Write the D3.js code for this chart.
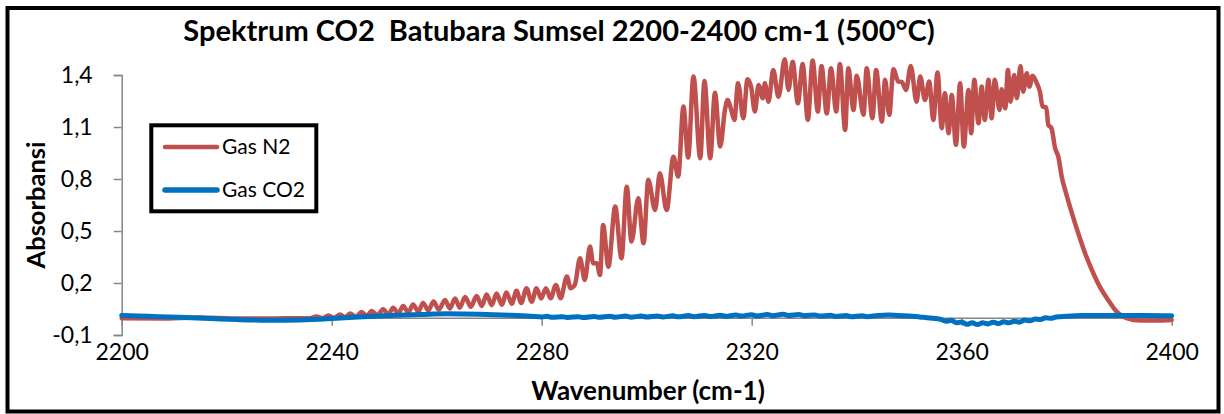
<!DOCTYPE html>
<html>
<head>
<meta charset="utf-8">
<script src="https://cdn.jsdelivr.net/npm/d3@7"></script>
<style>
  body { margin: 0; background: #fff; }
  svg { display: block; }
  text { font-family: Lato, "Open Sans", sans-serif; fill: #000; }
</style>
</head>
<body>
<svg id="chart" width="1224" height="414"></svg>
<script>
// tick values
var xTicks = [2200, 2240, 2280, 2320, 2360, 2400];
var yTicks = [-0.1, 0.2, 0.5, 0.8, 1.1, 1.4];

// Gas N2 series (wavenumber, absorbance)
var n2Wave = [2200.0, 2207.3, 2214.9, 2222.5, 2228.2, 2234.0, 2235.9, 2237.1, 2238.2, 2239.4,
  2240.4, 2241.6, 2242.5, 2243.5, 2244.6, 2245.7, 2246.7, 2247.6, 2248.7, 2249.8,
  2250.8, 2251.7, 2252.7, 2253.6, 2254.6, 2255.5, 2256.5, 2257.4, 2258.4, 2259.4,
  2260.4, 2261.6, 2262.5, 2263.5, 2264.4, 2265.4, 2266.5, 2267.6, 2268.6, 2269.5,
  2270.5, 2271.4, 2272.4, 2273.3, 2274.3, 2275.2, 2276.1, 2277.1, 2278.1, 2279.0,
  2279.9, 2280.8, 2281.7, 2282.7, 2283.6, 2284.8, 2285.5, 2286.3, 2287.3, 2288.2,
  2289.2, 2289.8, 2290.5, 2291.1, 2291.7, 2292.7, 2294.0, 2295.2, 2296.2, 2297.1,
  2298.4, 2299.4, 2300.3, 2301.6, 2302.5, 2303.8, 2305.1, 2306.0, 2307.0, 2307.9,
  2308.9, 2310.2, 2311.0, 2312.1, 2313.0, 2314.0, 2314.9, 2315.4, 2316.1, 2316.7,
  2317.4, 2318.4, 2319.2, 2319.9, 2320.6, 2321.3, 2322.1, 2322.5, 2323.2, 2324.1,
  2325.1, 2326.3, 2327.0, 2327.8, 2328.8, 2329.7, 2330.7, 2331.6, 2332.6, 2333.3,
  2334.3, 2335.1, 2336.1, 2336.8, 2337.8, 2338.4, 2339.4, 2340.0, 2341.3, 2341.9,
  2343.0, 2343.7, 2344.8, 2345.4, 2346.2, 2347.0, 2347.9, 2348.6, 2349.4, 2350.3,
  2351.4, 2352.1, 2353.0, 2353.8, 2354.6, 2355.4, 2356.2, 2356.8, 2357.5, 2358.1,
  2358.9, 2359.7, 2360.4, 2361.3, 2361.8, 2362.4, 2363.2, 2363.8, 2364.4, 2365.1,
  2365.7, 2366.3, 2367.2, 2367.6, 2368.3, 2368.8, 2369.3, 2370.0, 2370.5, 2371.2,
  2371.7, 2372.4, 2372.9, 2373.5, 2374.3, 2374.9, 2375.4, 2376.1, 2376.5, 2377.1,
  2377.8, 2378.4, 2379.1, 2379.7, 2381.0, 2382.2, 2383.5, 2384.8, 2386.3, 2387.9,
  2389.5, 2391.4, 2394.0, 2397.1, 2400.0];
var n2Abs = [-0.003, -0.005, 0.001, -0.005, -0.005, -0.003, -0.003, 0.007, -0.003, 0.013,
  -0.001, 0.018, 0.002, 0.024, 0.005, 0.033, 0.009, 0.039, 0.014, 0.048,
  0.018, 0.057, 0.024, 0.068, 0.030, 0.076, 0.036, 0.085, 0.042, 0.093,
  0.047, 0.102, 0.053, 0.111, 0.057, 0.119, 0.063, 0.125, 0.068, 0.134,
  0.072, 0.140, 0.075, 0.145, 0.080, 0.155, 0.085, 0.170, 0.092, 0.170,
  0.110, 0.170, 0.112, 0.189, 0.112, 0.237, 0.170, 0.189, 0.343, 0.218,
  0.410, 0.314, 0.314, 0.246, 0.535, 0.294, 0.641, 0.343, 0.756, 0.439,
  0.689, 0.429, 0.795, 0.621, 0.833, 0.621, 0.929, 0.814, 1.218, 0.924,
  1.392, 0.920, 1.366, 0.920, 1.297, 0.987, 1.198, 1.256, 1.198, 1.141,
  1.353, 1.151, 1.376, 1.331, 1.189, 1.343, 1.266, 1.353, 1.246, 1.429,
  1.275, 1.491, 1.314, 1.477, 1.237, 1.464, 1.141, 1.483, 1.189, 1.452,
  1.179, 1.439, 1.189, 1.464, 1.083, 1.439, 1.198, 1.395, 1.170, 1.439,
  1.151, 1.429, 1.131, 1.372, 1.170, 1.433, 1.362, 1.360, 1.314, 1.452,
  1.246, 1.391, 1.256, 1.362, 1.141, 1.414, 1.093, 1.295, 1.064, 1.285,
  0.997, 1.353, 0.987, 1.314, 1.064, 1.372, 1.122, 1.333, 1.141, 1.372,
  1.151, 1.372, 1.198, 1.318, 1.208, 1.429, 1.246, 1.400, 1.266, 1.452,
  1.304, 1.410, 1.333, 1.395, 1.353, 1.304, 1.218, 1.214, 1.112, 1.093,
  0.977, 0.929, 0.806, 0.737, 0.602, 0.487, 0.372, 0.275, 0.179, 0.102,
  0.035, -0.003, -0.017, -0.017, -0.013];

// Gas CO2 series
var co2Wave = [2200, 2205, 2211, 2217, 2222, 2228, 2234, 2240, 2245, 2251,
  2257, 2262, 2268, 2274, 2278, 2280, 2281, 2282, 2284, 2285,
  2287, 2288, 2290, 2291, 2293, 2294, 2296, 2297, 2299, 2300,
  2302, 2303, 2305, 2306, 2308, 2309, 2311, 2312, 2314, 2315,
  2317, 2318, 2320, 2321, 2323, 2324, 2326, 2327, 2329, 2330,
  2332, 2333, 2335, 2336, 2338, 2339, 2341, 2342, 2344, 2346,
  2348, 2350, 2352, 2354, 2356, 2357, 2358, 2359, 2360, 2361,
  2362, 2363, 2364, 2365, 2366, 2367, 2368, 2369, 2370, 2371,
  2372, 2373, 2374, 2375, 2376, 2377, 2378, 2380, 2383, 2386,
  2390, 2395, 2400];
var co2Abs = [0.013, 0.008, 0.002, -0.005, -0.011, -0.015, -0.013, -0.005, 0.004, 0.012,
  0.018, 0.022, 0.020, 0.014, 0.008, 0.004, 0.008, 0.002, 0.006, 0.001,
  0.006, 0.001, 0.007, 0.002, 0.008, 0.003, 0.009, 0.003, 0.009, 0.004,
  0.010, 0.004, 0.011, 0.005, 0.012, 0.006, 0.013, 0.007, 0.014, 0.008,
  0.015, 0.009, 0.017, 0.010, 0.018, 0.011, 0.019, 0.012, 0.018, 0.011,
  0.016, 0.009, 0.014, 0.007, 0.012, 0.005, 0.011, 0.006, 0.013, 0.016,
  0.012, 0.010, 0.004, -0.002, -0.010, -0.020, -0.015, -0.030, -0.025, -0.038,
  -0.030, -0.040, -0.030, -0.036, -0.026, -0.034, -0.024, -0.030, -0.020, -0.026,
  -0.014, -0.018, -0.008, -0.010, -0.001, -0.004, 0.004, 0.008, 0.012, 0.013,
  0.012, 0.013, 0.011];

var seriesNames = ["Gas N2", "Gas CO2"];
var seriesColors = ["#C0504D", "#0070C0"];

var svg = d3.select("#chart");

var x = d3.scaleLinear().domain([2200, 2400]).range([121.7, 1171.7]);
var y = d3.scaleLinear().domain([-0.1, 1.4]).range([335, 75]);

var locale = d3.formatLocale({decimal: ",", thousands: ".", grouping: [3], currency: ["", ""], minus: "-"});
var fmt = locale.format(".1f");

// outer frame
svg.append("rect")
  .attr("x", 7.5).attr("y", 8).attr("width", 1211).attr("height", 403.5)
  .attr("fill", "#fff").attr("stroke", "#000").attr("stroke-width", 4);

// title
svg.append("text")
  .attr("x", 559).attr("y", 41)
  .attr("text-anchor", "middle")
  .attr("font-weight", "bold")
  .attr("font-size", 29)
  .attr("xml:space", "preserve")
  .style("white-space", "pre")
  .text("Spektrum CO2  Batubara Sumsel 2200-2400 cm-1 (500°C)");

// y axis
var yAxis = svg.append("g")
  .attr("transform", "translate(" + x(2200) + ",0)")
  .call(d3.axisLeft(y).tickValues(yTicks).tickFormat(fmt).tickSize(8).tickPadding(21));
yAxis.select(".domain").attr("stroke", "#868686").attr("stroke-width", 1.5);
yAxis.selectAll(".tick line").attr("stroke", "#868686").attr("stroke-width", 1.5);
yAxis.selectAll(".tick text").attr("font-size", 23).attr("font-family", "Lato, sans-serif").attr("fill", "#000");

// x axis crossing at zero, labels low
var xAxis = svg.append("g")
  .attr("transform", "translate(0," + y(0) + ")")
  .call(d3.axisBottom(x).tickValues(xTicks).tickFormat(d3.format("d")).tickSize(8).tickSizeOuter(0));
xAxis.select(".domain").attr("stroke", "#868686").attr("stroke-width", 1.5);
xAxis.selectAll(".tick line").attr("stroke", "#868686").attr("stroke-width", 1.5);
xAxis.selectAll(".tick text")
  .attr("y", y(-0.1) - y(0) + 17).attr("dy", "0.35em")
  .attr("font-size", 23).attr("font-family", "Lato, sans-serif").attr("fill", "#000");

// series lines
var line = d3.line()
  .x(function(d) { return x(d[0]); })
  .y(function(d) { return y(d[1]); })
  .curve(d3.curveMonotoneX);

var n2Data = n2Wave.map(function(w, i) { return [w, n2Abs[i]]; });
var co2Data = co2Wave.map(function(w, i) { return [w, co2Abs[i]]; });

svg.append("path")
  .datum(n2Data)
  .attr("d", line)
  .attr("fill", "none")
  .attr("stroke", seriesColors[0])
  .attr("stroke-width", 4.5)
  .attr("stroke-linejoin", "round")
  .attr("stroke-linecap", "round");

svg.append("path")
  .datum(co2Data)
  .attr("d", line)
  .attr("fill", "none")
  .attr("stroke", seriesColors[1])
  .attr("stroke-width", 5)
  .attr("stroke-linejoin", "round")
  .attr("stroke-linecap", "round");

// axis titles
svg.append("text")
  .attr("transform", "translate(45,205) rotate(-90)")
  .attr("text-anchor", "middle")
  .attr("font-weight", "bold")
  .attr("font-size", 25.5)
  .text("Absorbansi");

svg.append("text")
  .attr("x", 648).attr("y", 400)
  .attr("text-anchor", "middle")
  .attr("font-weight", "bold")
  .attr("font-size", 26)
  .text("Wavenumber (cm-1)");

// legend
var legend = svg.append("g");
legend.append("rect")
  .attr("x", 151.3).attr("y", 125.3).attr("width", 165).attr("height", 86)
  .attr("fill", "#fff").attr("stroke", "#000").attr("stroke-width", 4);

var legendRows = [147, 190];
seriesNames.forEach(function(name, i) {
  legend.append("line")
    .attr("x1", 165).attr("x2", 217)
    .attr("y1", legendRows[i]).attr("y2", legendRows[i])
    .attr("stroke", seriesColors[i])
    .attr("stroke-width", i == 0 ? 4.5 : 5.5)
    .attr("stroke-linecap", "round");
  legend.append("text")
    .attr("x", 222).attr("y", legendRows[i])
    .attr("dy", "0.35em")
    .attr("font-size", 21)
    .text(name);
});
</script>
</body>
</html>
